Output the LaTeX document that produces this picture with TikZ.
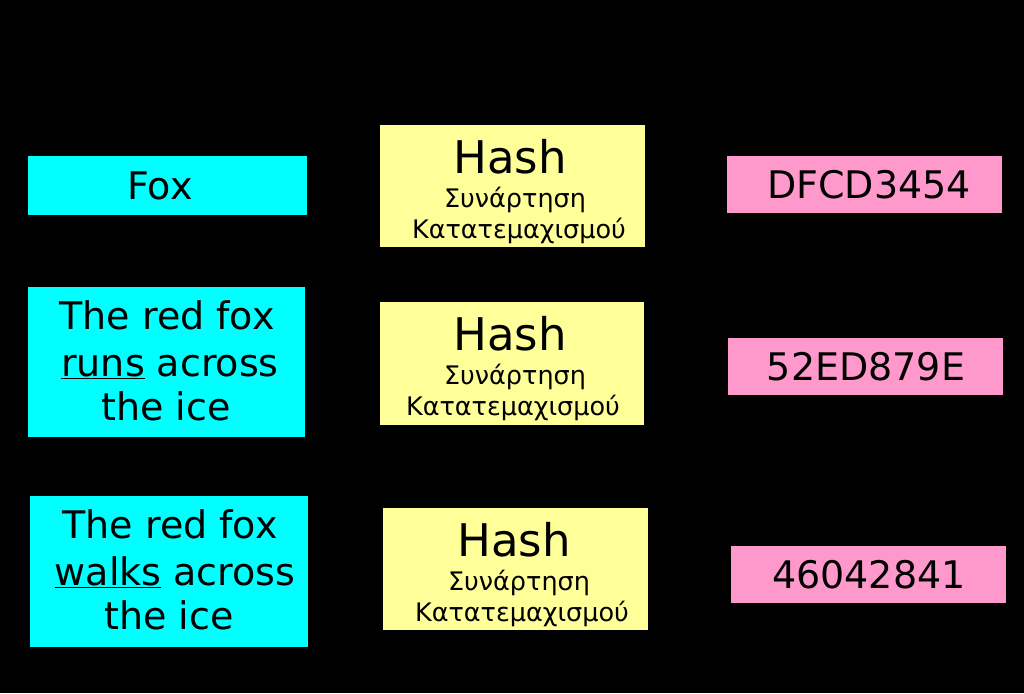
\documentclass[tikz,border=0pt]{standalone}
\usepackage{fontspec}
\setmainfont{DejaVu Sans}
\begin{document}
\begin{tikzpicture}[x=1pt,y=-1pt,
  box/.style={rectangle,inner sep=0pt,outer sep=0pt,draw=none},
  inbox/.style={box,fill=cyan},
  hbox/.style={box,fill=hashyellow},
  dbox/.style={box,fill=digestpink},
  big/.style={font=\fontsize{38}{44}\selectfont,anchor=base,inner sep=0pt},
  hash/.style={font=\fontsize{45}{52}\selectfont,anchor=base,inner sep=0pt},
  greek/.style={font=\fontsize{25.5}{30}\selectfont,anchor=base,inner sep=0pt}]
\definecolor{cyan}{HTML}{00FFFF}
\definecolor{hashyellow}{HTML}{FFFF99}
\definecolor{digestpink}{HTML}{FF99CC}
\useasboundingbox (0,0) rectangle (1024,693);
\fill[black] (0,0) rectangle (1024,693);
% input boxes
\node[inbox,minimum width=279pt,minimum height=59pt] (in1) at (167.5,185.5) {};
\node[inbox,minimum width=277pt,minimum height=150pt] (in2) at (166.5,362) {};
\node[inbox,minimum width=278pt,minimum height=151pt] (in3) at (169,571.5) {};
% hash boxes
\node[hbox,minimum width=265pt,minimum height=122pt] (h1) at (512.5,186) {};
\node[hbox,minimum width=264pt,minimum height=123pt] (h2) at (512,363.5) {};
\node[hbox,minimum width=265pt,minimum height=122pt] (h3) at (515.5,569) {};
% digest boxes
\node[dbox,minimum width=275pt,minimum height=57pt] (d1) at (864.5,184.5) {};
\node[dbox,minimum width=275pt,minimum height=57pt] (d2) at (865.5,366.5) {};
\node[dbox,minimum width=275pt,minimum height=57pt] (d3) at (868.5,574.5) {};
% input texts
\node[big] (t1) at (160,199) {Fox};
\node[big] (t2a) at (167,329) {The red fox};
\node[big] (t2b) at (170,376) {\underline{runs} across};
\node[big] (t2c) at (166,420) {the ice};
\node[big] (t3a) at (170,538) {The red fox};
\node[big] (t3b) at (175,585) {\underline{walks} across};
\node[big] (t3c) at (169,629) {the ice};
% hash texts
\node[hash] (ha1) at (510,173) {Hash};
\node[greek] (hb1) at (515,207) {Συνάρτηση};
\node[greek] (hc1) at (519,238) {Κατατεμαχισμού};
\node[hash] (ha2) at (510,350) {Hash};
\node[greek] (hb2) at (515,384) {Συνάρτηση};
\node[greek] (hc2) at (513,415) {Κατατεμαχισμού};
\node[hash] (ha3) at (514,556) {Hash};
\node[greek] (hb3) at (519,590) {Συνάρτηση};
\node[greek] (hc3) at (522,621) {Κατατεμαχισμού};
% digest texts
\node[big] (dt1) at (869,198) {DFCD3454};
\node[big] (dt2) at (866,380) {52ED879E};
\node[big] (dt3) at (869,588) {46042841};
\end{tikzpicture}
\end{document}
